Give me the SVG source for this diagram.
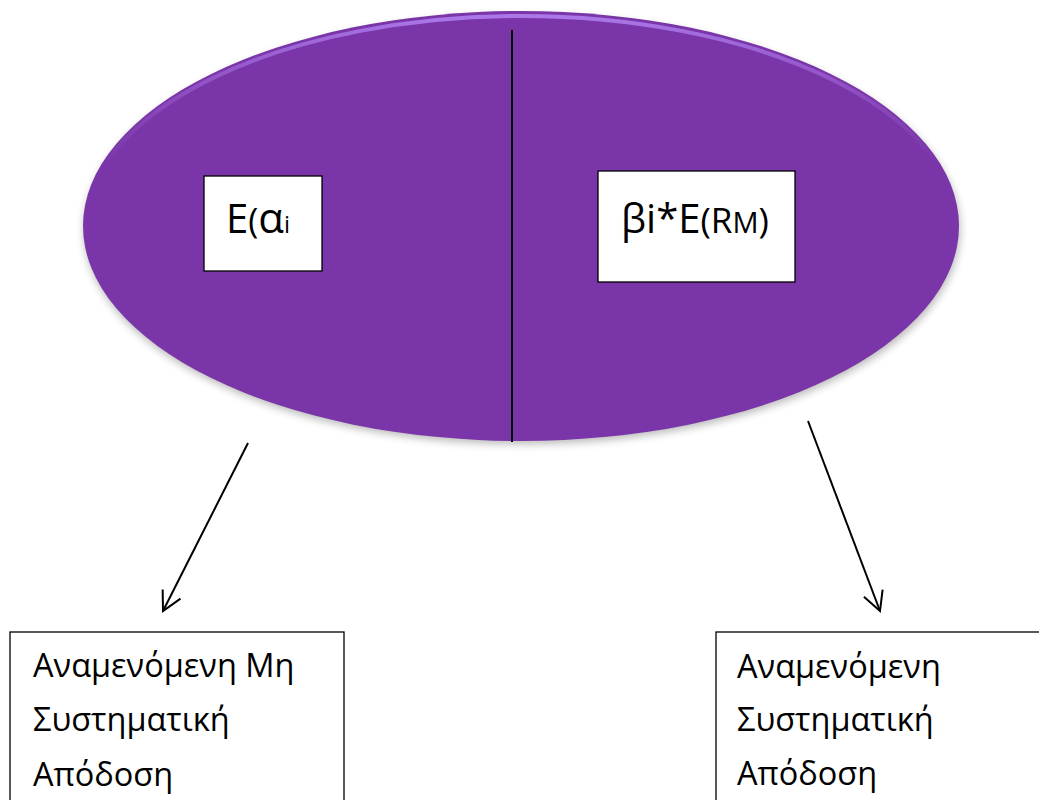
<svg xmlns="http://www.w3.org/2000/svg" width="1039" height="800" viewBox="0 0 1039 800">
<style>
.box{fill:#fff;stroke:#000;stroke-width:1.3}
.lbl{font-family:"Open Sans","Noto Sans","DejaVu Sans",sans-serif;fill:#000}
.conn{stroke:#000;stroke-width:2;fill:none}
</style>
<defs>
<filter id="sh" x="-10%" y="-10%" width="120%" height="130%">
<feGaussianBlur stdDeviation="4"/>
</filter>
<linearGradient id="hl" x1="0" y1="0" x2="0" y2="1">
<stop offset="0" stop-color="#b07ef0" stop-opacity="0.9"/>
<stop offset="0.35" stop-color="#9a5cd0" stop-opacity="0"/>
<stop offset="1" stop-color="#9a5cd0" stop-opacity="0"/>
</linearGradient>
<marker id="arr" markerWidth="30" markerHeight="30" refX="20" refY="11" orient="auto" markerUnits="userSpaceOnUse">
<path d="M1,1 L20,11 L1,21" fill="none" stroke="#000" stroke-width="2"/>
</marker>
</defs>
<rect width="1039" height="800" fill="#fff"/>
<g id="ellipse">
<ellipse cx="522" cy="230" rx="438" ry="214" fill="#000" opacity="0.28" filter="url(#sh)"/>
<ellipse cx="521" cy="226" rx="438" ry="215" fill="#7a36a8"/>
<ellipse cx="521" cy="228" rx="436" ry="212" fill="none" stroke="url(#hl)" stroke-width="4"/>
<line x1="512" y1="30" x2="512" y2="442" stroke="#000" stroke-width="2"/>
</g>
<g id="node-alpha">
<rect class="box" x="204" y="176" width="118" height="95"/>
<text class="lbl" x="226" y="233" font-size="40">E<tspan font-size="34">(</tspan><tspan font-size="42">α</tspan><tspan font-size="24">i</tspan></text>
</g>
<g id="node-beta">
<rect class="box" x="598" y="171" width="197" height="111"/>
<text class="lbl" x="621" y="233" font-size="40">βi*E<tspan font-size="35">(R</tspan><tspan font-size="29">M</tspan><tspan font-size="35">)</tspan></text>
</g>
<g id="node-left">
<rect class="box" x="10" y="632" width="334" height="180"/>
<text class="lbl" font-size="32.5"><tspan x="33" y="677">Αναμενόμενη Μη</tspan><tspan x="33" y="731">Συστηματική</tspan><tspan x="33" y="786">Απόδοση</tspan></text>
</g>
<g id="node-right">
<rect class="box" x="716" y="632" width="340" height="180"/>
<text class="lbl" font-size="32.5"><tspan x="737" y="678">Αναμενόμενη</tspan><tspan x="737" y="731">Συστηματική</tspan><tspan x="737" y="785">Απόδοση</tspan></text>
</g>
<g id="connectors">
<line class="conn" x1="248" y1="443" x2="163" y2="611" marker-end="url(#arr)"/>
<line class="conn" x1="808" y1="421" x2="880" y2="611" marker-end="url(#arr)"/>
</g>
</svg>
